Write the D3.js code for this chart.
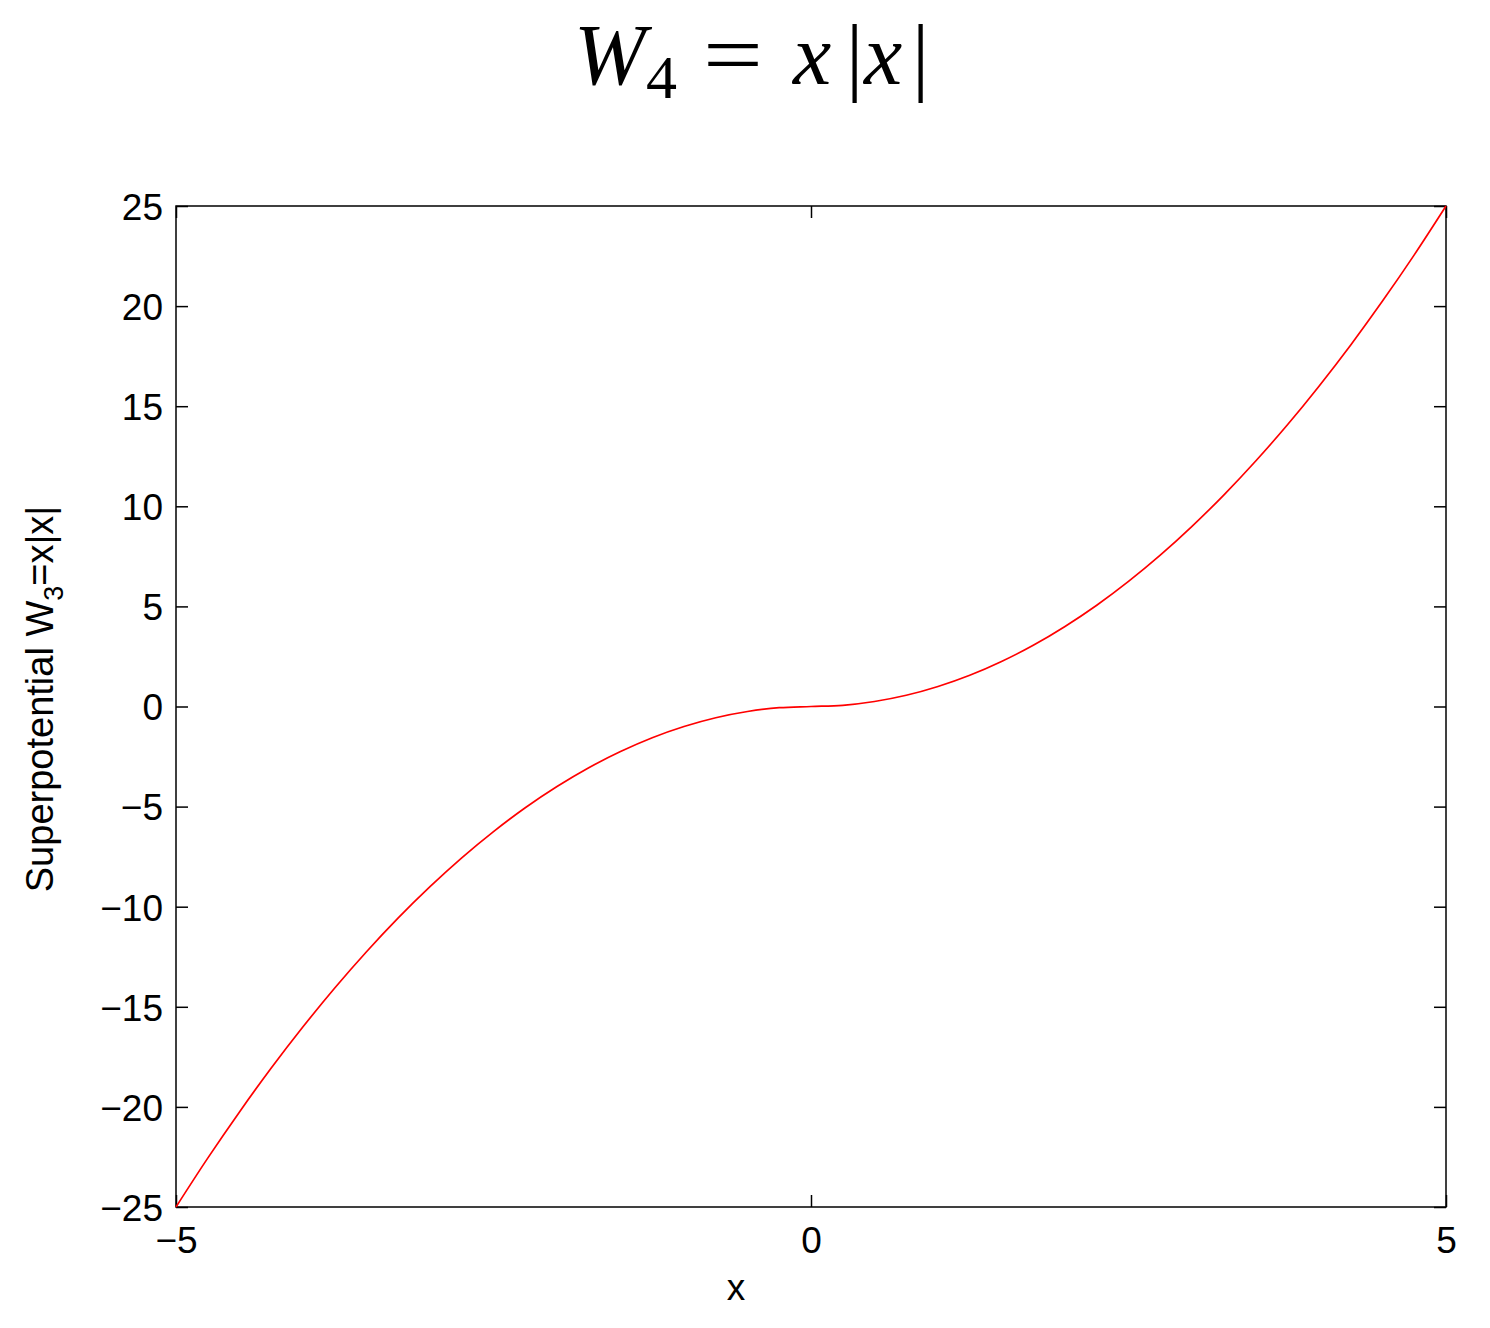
<!DOCTYPE html>
<html>
<head>
<meta charset="utf-8">
<script src="https://cdn.jsdelivr.net/npm/d3@7"></script>
<style>
  body { margin: 0; background: #fff; }
  svg { display: block; }
</style>
</head>
<body>
<div id="chart"></div>
<script>
// values
let xs = [-5, -4.75, -4.5, -4.25, -4, -3.75, -3.5, -3.25, -3, -2.75, -2.5, -2.25, -2, -1.75, -1.5, -1.25, -1, -0.75, -0.5, -0.25,
          0, 0.25, 0.5, 0.75, 1, 1.25, 1.5, 1.75, 2, 2.25, 2.5, 2.75, 3, 3.25, 3.5, 3.75, 4, 4.25, 4.5, 4.75, 5];
let ys = [-25, -22.56, -20.25, -18.06, -16, -14.06, -12.25, -10.56, -9, -7.56, -6.25, -5.06, -4, -3.06, -2.25, -1.56, -1, -0.56, -0.25, -0.06,
          0, 0.06, 0.25, 0.56, 1, 1.56, 2.25, 3.06, 4, 5.06, 6.25, 7.56, 9, 10.56, 12.25, 14.06, 16, 18.06, 20.25, 22.56, 25];
let x_ticks = [-5, 0, 5];
let y_ticks = [-25, -20, -15, -10, -5, 0, 5, 10, 15, 20, 25];

let svg_width = 1490;
let svg_height = 1328;

// plot box in pixels
let plot_left = 176, plot_right = 1446, plot_top = 206, plot_bottom = 1207;
let tick_len = 12;

let svg = d3.select('#chart')
    .append('svg')
    .attr('width', svg_width)
    .attr('height', svg_height);

let x = d3.scaleLinear().domain([-5, 5]).range([plot_left, plot_right]);
let y = d3.scaleLinear().domain([-25, 25]).range([plot_bottom, plot_top]);

let font = 'Liberation Sans, Arial, Helvetica, sans-serif';
let font_size = 37;
let minus = d => d < 0 ? '\u2212' + Math.abs(d) : d;

// axes: ticks point inward, drawn on all four sides
let xBottom = svg.append('g')
    .attr('transform', 'translate(0,' + plot_bottom + ')')
    .call(d3.axisBottom(x).tickValues(x_ticks).tickSize(-tick_len).tickPadding(20).tickFormat(minus));
let xTop = svg.append('g')
    .attr('transform', 'translate(0,' + plot_top + ')')
    .call(d3.axisTop(x).tickValues(x_ticks).tickSize(-tick_len).tickFormat(''));
let yLeft = svg.append('g')
    .attr('transform', 'translate(' + plot_left + ',0)')
    .call(d3.axisLeft(y).tickValues(y_ticks).tickSize(-tick_len).tickPadding(13).tickFormat(minus));
let yRight = svg.append('g')
    .attr('transform', 'translate(' + plot_right + ',0)')
    .call(d3.axisRight(y).tickValues(y_ticks).tickSize(-tick_len).tickFormat(''));

[xBottom, xTop, yLeft, yRight].forEach(g => {
    g.select('.domain').remove();
    g.selectAll('.tick line').attr('stroke', '#000').attr('stroke-width', 1.5);
    g.selectAll('text').attr('font-family', font).attr('font-size', font_size).attr('fill', '#000');
});
yLeft.selectAll('text').attr('dy', '0.36em');

// box
svg.append('rect')
    .attr('x', plot_left).attr('y', plot_top)
    .attr('width', plot_right - plot_left).attr('height', plot_bottom - plot_top)
    .attr('fill', 'none').attr('stroke', '#000').attr('stroke-width', 1.5);

// curve
let line = d3.line()
    .x((d, i) => x(xs[i]))
    .y(d => y(d))
    .curve(d3.curveMonotoneX);

svg.append('path')
    .datum(ys)
    .attr('d', line)
    .attr('fill', 'none')
    .attr('stroke', '#ff0000')
    .attr('stroke-width', 1.7);

// x label
svg.append('text')
    .attr('x', 736).attr('y', 1300)
    .attr('text-anchor', 'middle')
    .attr('font-family', font).attr('font-size', font_size)
    .text('x');

// y label (rotated, with subscript)
let ylab = svg.append('text')
    .attr('transform', 'translate(53,699) rotate(-90)')
    .attr('text-anchor', 'middle')
    .attr('font-family', font).attr('font-size', font_size + 1);
ylab.append('tspan').text('Superpotential W');
ylab.append('tspan').attr('font-size', 27).attr('dy', 10).text('3');
ylab.append('tspan').attr('dy', -10).text('=x|x|');

// title, glyphs placed one by one like the typeset formula
let title = svg.append('text')
    .attr('y', 84)
    .attr('font-family', 'Liberation Serif, DejaVu Serif, serif')
    .attr('font-size', 86);
title.append('tspan').attr('x', 574).attr('font-style', 'italic').text('W');
title.append('tspan').attr('x', 646).attr('dy', 14).attr('font-size', 62).text('4');
title.append('tspan').attr('x', 703).attr('dy', -14).attr('textLength', 60).attr('lengthAdjust', 'spacingAndGlyphs').text('=');
title.append('tspan').attr('x', 793).attr('font-style', 'italic').text('x');
title.append('tspan').attr('x', 846).text('|');
title.append('tspan').attr('x', 864).attr('font-style', 'italic').text('x');
title.append('tspan').attr('x', 912).text('|');
</script>
</body>
</html>
